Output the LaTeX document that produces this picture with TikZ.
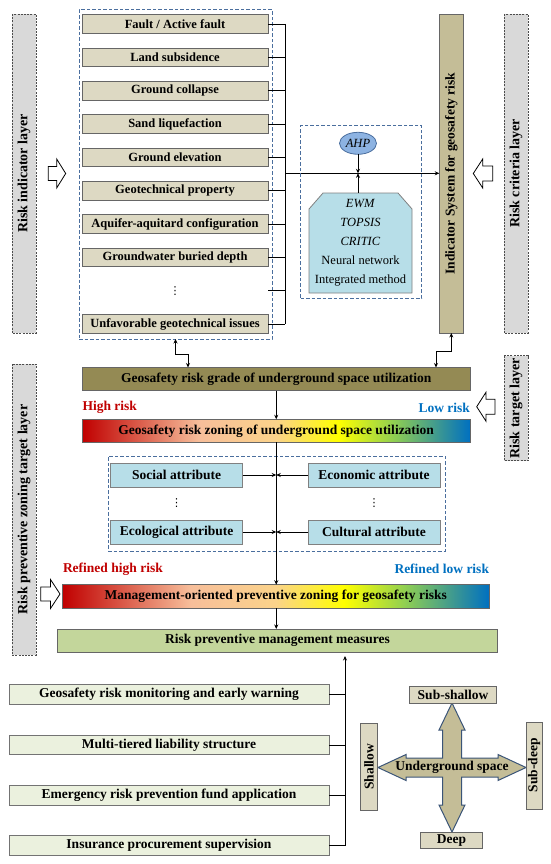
\documentclass[tikz,border=0pt]{standalone}
\usepackage{fontspec}
\setmainfont{Liberation Serif}
\newfontfamily\symfont{DejaVu Sans}
\usetikzlibrary{arrows.meta,shapes.geometric,calc}
\definecolor{tanL}{HTML}{DDD9C3}
\definecolor{tanM}{HTML}{C4BD97}
\definecolor{oliveD}{HTML}{948A54}
\definecolor{aqua}{HTML}{B7DEE8}
\definecolor{ahpblue}{HTML}{8DB3E2}
\definecolor{dashblue}{HTML}{4A6E9E}
\definecolor{layergrey}{HTML}{D9D9D9}
\definecolor{greenM}{HTML}{C3D69B}
\definecolor{greenL}{HTML}{EBF1DE}
\definecolor{hired}{HTML}{C00000}
\definecolor{loblue}{HTML}{0070C0}
\definecolor{crossedge}{HTML}{3B5578}
\definecolor{gA}{HTML}{C00000}
\definecolor{gB}{HTML}{F7BE9A}
\definecolor{gC}{HTML}{FBD38A}
\definecolor{gD}{HTML}{FFFF00}
\definecolor{gE}{HTML}{92D050}
\definecolor{gF}{HTML}{0070C0}
\pgfdeclarehorizontalshading{riskgrad}{100bp}{color(0bp)=(gA); color(25bp)=(gA); color(40bp)=(gB); color(50bp)=(gC); color(58bp)=(gD); color(65bp)=(gE); color(75bp)=(gF); color(100bp)=(gF)}
\newcommand{\fA}{\fontsize{12.5}{14}\selectfont\bfseries}
\newcommand{\fB}{\fontsize{13.5}{15}\selectfont\bfseries}
\newcommand{\fC}{\fontsize{14}{16}\selectfont\bfseries}
\newcommand{\vdotsym}{{\symfont\fontsize{11}{12}\selectfont ⋮}}
\newcommand{\hollowarrow}[5]{\draw[hollow] (#1,#4-#5) -- (#3,#4-#5) -- (#3,#4-14.5) -- (#2,#4) -- (#3,#4+14.5) -- (#3,#4+#5) -- (#1,#4+#5) -- cycle;}
\begin{document}
\begin{tikzpicture}[x=1pt,y=-1pt,
  every node/.style={inner sep=0pt, outer sep=0pt},
  ibox/.style={draw=black!60, line width=0.8pt, fill=tanL, minimum width=186pt, minimum height=18.6pt, font=\fA},
  layer/.style={draw=black!70, dash pattern=on 2pt off 1.2pt, line width=0.8pt, fill=layergrey, minimum height=24pt, rotate=90, font=\fC},
  dbox/.style={draw=dashblue, dash pattern=on 3.5pt off 2pt, line width=1pt},
  bar/.style={draw=black!60, line width=0.8pt, minimum height=23pt, font=\fB},
  abox/.style={draw=black!50, fill=aqua, line width=0.8pt, minimum width=132pt, minimum height=24pt, font=\fB},
  mbox/.style={draw=black!55, fill=greenL, line width=0.8pt, minimum width=320pt, minimum height=19.5pt, font=\fB},
  cbox/.style={draw=black!60, fill=tanL, line width=0.8pt, font=\fB},
  conn/.style={line width=0.8pt},
  arr/.style={conn, -{Stealth[length=4.5pt,width=4pt]}},
  dbl/.style={conn, {Stealth[length=4.5pt,width=4pt]}-{Stealth[length=4.5pt,width=4pt]}},
  hollow/.style={draw=black, fill=white, line width=0.8pt},
  crossfill/.style={draw=crossedge, fill=tanM, line width=1pt}
]
\useasboundingbox (0,0) rectangle (550,864);

% layer labels
\node[layer, minimum width=319pt] (Lind) at (24,173.5) {Risk indicator layer};
\node[layer, minimum width=319pt] (Lcri) at (516,173.5) {Risk criteria layer};
\node[layer, minimum width=105pt] (Ltar) at (516,408.3) {Risk target layer};
\node[layer, minimum width=291pt] (Lpre) at (24,509.5) {Risk preventive zoning target layer};

% hollow arrows
\hollowarrow{48.3}{65.7}{56.7}{173.5}{7}
\hollowarrow{492.7}{473.3}{482.7}{173.5}{7.5}
\hollowarrow{495}{476.7}{486}{406.7}{7.5}
\hollowarrow{40.7}{60}{50.5}{594}{7}

% indicator container and boxes
\node[dbox, minimum width=193pt, minimum height=329pt] (icont) at (175.5,174.5) {};
\node[ibox] (i1) at (175,24) {Fault / Active fault};
\node[ibox] (i2) at (175,57.3) {Land subsidence};
\node[ibox] (i3) at (175,90.7) {Ground collapse};
\node[ibox] (i4) at (175,124) {Sand liquefaction};
\node[ibox] (i5) at (175,157.3) {Ground elevation};
\node[ibox] (i6) at (175,190.7) {Geotechnical property};
\node[ibox] (i7) at (175,224) {Aquifer-aquitard configuration};
\node[ibox] (i8) at (175,257.3) {Groundwater buried depth};
\node (idots) at (175,290.7) {\vdotsym};
\node[ibox] (i10) at (175,324) {Unfavorable geotechnical issues};

% indicator system bar
\node[bar, rotate=90, fill=tanM, minimum width=319pt, minimum height=24pt] (sys) at (451.3,173.5) {Indicator System for geosafety risk};

% bracket
\coordinate (br) at (285,173.3);
\foreach \n in {i1,i2,i3,i4,i5,i6,i7,i8,i10} \draw[conn] (\n.east) -- (\n.east -| br);
\draw[conn] (i1.east |- idots) -- (br |- idots);
\draw[conn] (br |- i1.east) -- (br |- i10.east);
\draw[arr] (br) -- (br -| sys.north);

% methods
\node[dbox, minimum width=121.3pt, minimum height=172pt] (mcont) at (361.3,212) {};
\draw[draw=black!50, fill=aqua, line width=0.8pt] (309,293) -- (309,209) -- (323,193) -- (398,193) -- (412,209) -- (412,293) -- cycle;
\node[font=\fontsize{12.5}{19}\selectfont, align=center] (meth) at (360.5,243) {\textit{EWM}\\\textit{TOPSIS}\\\textit{CRITIC}\\Neural network\\Integrated method};
\coordinate (methtop) at (358,193);
\node[ellipse, draw=dashblue, fill=ahpblue, line width=0.8pt, minimum width=37pt, minimum height=22pt, font=\fontsize{12.5}{14}\selectfont\itshape] (ahp) at (358,143.3) {AHP};
\draw[arr] (ahp.south) -- (ahp.south |- br);
\draw[arr] (methtop) -- (methtop |- br);

% grade and zoning
\node[bar, fill=oliveD, minimum width=387.5pt] (grade) at (276.25,379) {Geosafety risk grade of underground space utilization};
\node[bar, shade, shading=riskgrad, minimum width=387.5pt] (zone) at (276.25,430.8) {Geosafety risk zoning of underground space utilization};
\node[font=\fB, text=hired, anchor=west] (hi) at (82.5,407.5) {High risk};
\node[font=\fB, text=loblue, anchor=east] (lo) at (470,408) {Low risk};

\draw[dbl] (sys.west) -- ++(0,18) -| ($(grade.north east)+(-34,0)$);
\draw[dbl] (icont.south) -- ++(0,15) -| ($(grade.north west)+(105.5,0)$);
\draw[arr] (grade.south) -- (zone.north);

% attributes
\node[dbox, minimum width=337pt, minimum height=95pt] (acont) at (276.5,503.5) {};
\node[abox] (soc) at (176.6,475) {Social attribute};
\node[abox] (eco) at (374,475) {Economic attribute};
\node[abox] (ecol) at (176.6,532) {Ecological attribute};
\node[abox] (cul) at (374,532) {Cultural attribute};
\node (d1) at (176.6,503.5) {\vdotsym};
\node (d2) at (374,503.5) {\vdotsym};

% management
\node[bar, shade, shading=riskgrad, minimum width=426.5pt, minimum height=23.5pt] (mgmt) at (275.75,596.5) {Management-oriented preventive zoning for geosafety risks};
\node[font=\fB, text=hired, anchor=west] (rhi) at (63,569) {Refined high risk};
\node[font=\fB, text=loblue, anchor=east] (rlo) at (489,569) {Refined low risk};
\node[bar, fill=greenM, minimum width=440pt, minimum height=23pt] (meas) at (277.5,640.5) {Risk preventive management measures};

\draw[arr] (zone.south) -- (zone.south |- mgmt.north);
\draw[arr] (soc.east) -- (soc.east -| zone.south);
\draw[arr] (eco.west) -- (eco.west -| zone.south);
\draw[arr] (ecol.east) -- (ecol.east -| zone.south);
\draw[arr] (cul.west) -- (cul.west -| zone.south);
\draw[arr] (zone.south |- mgmt.south) -- (zone.south |- meas.north);

% measures
\node[mbox] (m1) at (169,694.5) {Geosafety risk monitoring and early warning};
\node[mbox] (m2) at (169,745) {Multi-tiered liability structure};
\node[mbox] (m3) at (169,795.3) {Emergency risk prevention fund application};
\node[mbox] (m4) at (169,845.5) {Insurance procurement supervision};
\coordinate (mbr) at (345,745);
\foreach \n in {m1,m2,m3,m4} \draw[conn] (\n.east) -- (\n.east -| mbr);
\draw[arr] (mbr |- m4.east) -- ($(mbr |- meas.south)+(0,4)$);

% cross
\draw[crossfill, shift={(452,767.5)}] (0,-64.5) -- (13,-37.5) -- (9.5,-37.5) -- (9.5,-9.5) -- (46,-9.5) -- (46,-13) -- (74,0) -- (46,13) -- (46,9.5) -- (9.5,9.5) -- (9.5,37.5) -- (13,37.5) -- (0,64.5) -- (-13,37.5) -- (-9.5,37.5) -- (-9.5,9.5) -- (-46,9.5) -- (-46,13) -- (-74,0) -- (-46,-13) -- (-46,-9.5) -- (-9.5,-9.5) -- (-9.5,-37.5) -- (-13,-37.5) -- cycle;
\node[font=\fB] (ug) at (452,767.5) {Underground space};
\node[cbox, minimum width=87.5pt, minimum height=17pt] (ss) at (453,694.5) {Sub-shallow};
\node[cbox, minimum width=61.5pt, minimum height=15.6pt] (dp) at (451.5,840.5) {Deep};
\node[cbox, rotate=90, minimum width=87pt, minimum height=16.6pt] (sh) at (369,766.7) {Shallow};
\node[cbox, rotate=90, minimum width=87pt, minimum height=16.4pt] (sd) at (534.2,765.4) {Sub-deep};
\end{tikzpicture}
\end{document}
